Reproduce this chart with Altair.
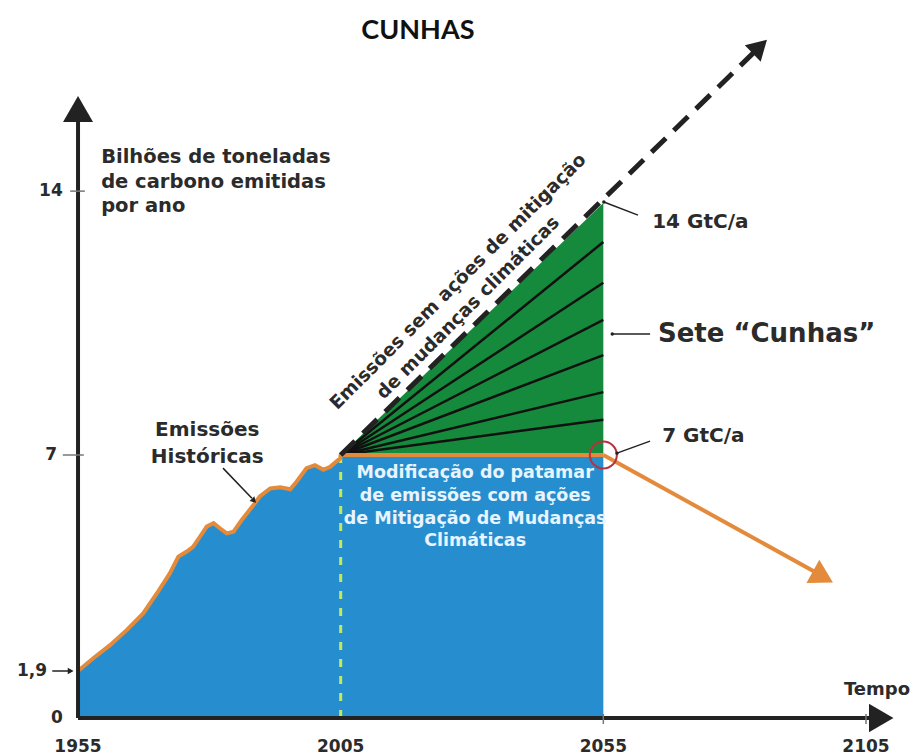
import altair as alt
import pandas as pd

# ---------------- data ----------------
hist_years = [1955, 1957.9, 1961.1, 1964.3, 1967.4, 1970.0, 1972.5, 1974.1, 1975.7, 1976.9,
              1978.2, 1979.5, 1980.8, 1982.0, 1983.3, 1984.6, 1986.2, 1988.4, 1989.6, 1991.6,
              1993.5, 1995.4, 1996.6, 1998.5, 2000.1, 2001.7, 2003.0, 2004.9, 2005]
hist_values = [1.9, 2.20, 2.51, 2.87, 3.26, 3.73, 4.21, 4.60, 4.72, 4.83,
               5.07, 5.31, 5.39, 5.27, 5.15, 5.19, 5.47, 5.82, 6.02, 6.21,
               6.24, 6.19, 6.37, 6.69, 6.76, 6.65, 6.72, 6.92, 7.0]
plateau_years = [2005, 2055]
plateau_values = [7.0, 7.0]
wedge_tops = [7.94, 8.68, 9.67, 10.61, 11.6, 12.69, 13.73]
bau_line = {"x": [2005], "y": [7.0], "x2": [2084.8], "y2": [17.91]}
mitig_line = {"x": [2055], "y": [7.0], "x2": [2096.6], "y2": [4.15]}

y_tick_labels = ["14", "7", "1,9", "0"]
y_tick_values = [14, 7, 1.9, 0]
x_tick_labels = ["1955", "2005", "2055", "2105"]
x_tick_values = [1955, 2005, 2055, 2105]

# ---------------- scales ----------------
XS = alt.Scale(domain=[1941.67, 2114.33], nice=False, zero=False)
YS = alt.Scale(domain=[-1.013, 0, 1.9, 7, 14, 18.94], range=[748, 710, 663, 447, 185, 0],
               nice=False, zero=False)


def X(f="x"):
    return alt.X(f"{f}:Q", scale=XS, axis=None)


def Y(f="y"):
    return alt.Y(f"{f}:Q", scale=YS, axis=None)


BLUE = "#268ece"
GREEN = "#158a3c"
ORANGE = "#e38b3b"
DARK = "#222222"
TXT = "#2b2b2b"
FONT = "DejaVu Sans"

# blue area (historical + plateau)
area_df = pd.DataFrame({"x": hist_years + [2055], "y": hist_values + [7.0]})
area_df["y0"] = 0.0
blue = alt.Chart(area_df).mark_area(color=BLUE, opacity=1).encode(
    x=X(), y=Y(), y2=alt.Y2("y0:Q"))

# green wedge
wedge_df = pd.DataFrame({"x": [2005, 2055], "y": [7.0, wedge_tops[-1]], "y0": [7.0, 7.0]})
green = alt.Chart(wedge_df).mark_area(color=GREEN, opacity=1).encode(
    x=X(), y=Y(), y2=alt.Y2("y0:Q"))

# fan lines
fan_df = pd.DataFrame({"x": [2005] * 6, "y": [7.0] * 6, "x2": [2055] * 6, "y2": wedge_tops[:-1]})
fan = alt.Chart(fan_df).mark_rule(color="#111111", strokeWidth=2.5).encode(
    x=X(), y=Y(), x2=alt.X2("x2:Q"), y2=alt.Y2("y2:Q"))

# green dashed vertical line at 2005
vdash = alt.Chart(pd.DataFrame({"x": [2005], "y": [0.0], "y2": [7.0]})).mark_rule(
    color="#c2ec55", strokeWidth=3, strokeDash=[8, 9]).encode(
    x=X(), y=Y(), y2=alt.Y2("y2:Q"))

# orange historical + plateau line
oline_df = pd.DataFrame({"x": hist_years + plateau_years[1:], "y": hist_values + plateau_values[1:]})
oline = alt.Chart(oline_df).mark_line(color=ORANGE, strokeWidth=4).encode(x=X(), y=Y())

# orange mitigation arrow
marrow = alt.Chart(pd.DataFrame(mitig_line)).mark_rule(color=ORANGE, strokeWidth=4).encode(
    x=X(), y=Y(), x2=alt.X2("x2:Q"), y2=alt.Y2("y2:Q"))
mhead = alt.Chart(pd.DataFrame({"x": [2096.8], "y": [4.12]})).mark_point(
    shape="triangle-up", filled=True, color=ORANGE, opacity=1, size=700, angle=119).encode(x=X(), y=Y())

# red circle
circle = alt.Chart(pd.DataFrame({"x": [2055], "y": [7.0]})).mark_point(
    shape="circle", filled=False, color="#b8323c", size=729, strokeWidth=2, opacity=1).encode(x=X(), y=Y())

# BAU dashed line with arrow
bau = alt.Chart(pd.DataFrame(bau_line)).mark_rule(
    color=DARK, strokeWidth=5, strokeDash=[20, 11]).encode(
    x=X(), y=Y(), x2=alt.X2("x2:Q"), y2=alt.Y2("y2:Q"))
bhead = alt.Chart(pd.DataFrame({"x": [2084.8], "y": [17.91]})).mark_point(
    shape="triangle-up", filled=True, color=DARK, opacity=1, size=520, angle=46).encode(x=X(), y=Y())

# axes
axes_df = pd.DataFrame({"x": [1955, 1955], "y": [0.0, 0.0], "x2": [1955, 2105.8], "y2": [15.9, 0.0]})
axes = alt.Chart(axes_df).mark_rule(color=DARK, strokeWidth=4).encode(
    x=X(), y=Y(), x2=alt.X2("x2:Q"), y2=alt.Y2("y2:Q"))
yhead = alt.Chart(pd.DataFrame({"x": [1955], "y": [16.24]})).mark_point(
    shape="triangle-up", filled=True, color=DARK, opacity=1, size=900).encode(x=X(), y=Y())
xhead = alt.Chart(pd.DataFrame({"x": [2107.9], "y": [0.0]})).mark_point(
    shape="triangle-right", filled=True, color=DARK, opacity=1, size=800).encode(x=X(), y=Y())

# tick marks
ticks_df = pd.DataFrame({
    "x": [1953.5, 1952.1, 2055, 2105],
    "y": [14.05, 7.0, 0.16, 0.16],
    "x2": [1956.3, 1956.1, 2055, 2105],
    "y2": [14.05, 7.0, -0.16, -0.16]})
ticks = alt.Chart(ticks_df).mark_rule(color="#777777", strokeWidth=1.5).encode(
    x=X(), y=Y(), x2=alt.X2("x2:Q"), y2=alt.Y2("y2:Q"))

# pointer lines
ptr_df = pd.DataFrame({
    "x": [1982.6, 2061.6, 2063.9, 2063.9, 1950.1],
    "y": [6.69, 13.41, 10.23, 7.37, 1.9],
    "x2": [1988.1, 2055.1, 2056.7, 2057.6, 1953.3],
    "y2": [5.98, 13.76, 10.23, 7.05, 1.9]})
ptrs = alt.Chart(ptr_df).mark_rule(color=DARK, strokeWidth=1.5).encode(
    x=X(), y=Y(), x2=alt.X2("x2:Q"), y2=alt.Y2("y2:Q"))
ptr_heads = alt.Chart(pd.DataFrame({
    "x": [1988.5, 1953.6], "y": [5.92, 1.9], "a": [136, 90]})).mark_point(
    shape="triangle-up", filled=True, color=DARK, opacity=1, size=45).encode(
    x=X(), y=Y(), angle=alt.Angle("a:Q", scale=None))
ptr_dots = alt.Chart(pd.DataFrame({"x": [2055.1, 2056.7, 2057.6], "y": [13.76, 10.23, 7.05]})).mark_point(
    shape="circle", filled=True, color=DARK, opacity=1, size=12).encode(x=X(), y=Y())


def texts(rows, **kw):
    df = pd.DataFrame(rows, columns=["x", "y", "t"])
    return alt.Chart(df).mark_text(**kw).encode(x=X(), y=Y(), text="t:N")


title = texts([(2019.7, 18.33, "CUNHAS")], font="Lato", fontWeight="bold", fontSize=27,
              color="#111111", align="center", baseline="middle")
ylab = texts([(1959.4, 14.96, "Bilhões de toneladas"), (1959.4, 14.29, "de carbono emitidas"),
              (1959.4, 13.65, "por ano")],
             font=FONT, fontWeight="bold", fontSize=19.5, color=TXT, align="left", baseline="middle")
yt_df = [(1952.1, 14.05, "14"), (1951.0, 7.0, "7"), (1949.1, 1.9, "1,9"), (1952.1, 0.0, "0")]
ytl = texts(yt_df, font=FONT, fontWeight="bold", fontSize=17, color=TXT, align="right", baseline="middle")
xtl = texts([(v, -0.77, l) for v, l in zip(x_tick_values, x_tick_labels)],
            font=FONT, fontWeight="bold", fontSize=17, color=TXT, align="center", baseline="middle")
tempo = texts([(2107.1, 1.13, "Tempo")], font=FONT, fontWeight="bold", fontSize=18, color=TXT,
              align="center", baseline="middle")
hist_lab = texts([(1979.6, 7.67, "Emissões"), (1979.6, 6.95, "Históricas")],
                 font=FONT, fontWeight="bold", fontSize=20, color=TXT, align="center", baseline="middle")
right_lab = texts([(2064.3, 13.22, "14 GtC/a"), (2066.2, 7.51, "7 GtC/a")],
                  font=FONT, fontWeight="bold", fontSize=20, color=TXT, align="left", baseline="middle")
sete = texts([(2065.4, 10.23, "Sete “Cunhas”")], font=FONT, fontWeight="bold", fontSize=26,
             color=TXT, align="left", baseline="middle")
white = texts([(2030.6, 6.575, "Modificação do patamar"), (2030.6, 6.03, "de emissões com ações"),
               (2030.6, 5.49, "de Mitigação de Mudanças"), (2030.6, 4.97, "Climáticas")],
              font=FONT, fontWeight="bold", fontSize=17.5, color="#e8f4ff", align="center", baseline="middle")
rot = texts([(2027.3, 11.64, "Emissões sem ações de mitigação"),
             (2029.2, 10.94, "de mudanças climáticas")],
            font=FONT, fontWeight="bold", fontSize=18.5, color=TXT, align="center", baseline="middle",
            angle=315)

chart = alt.layer(
    blue, green, fan, vdash, oline, marrow, mhead, circle, bau, bhead,
    axes, yhead, xhead, ticks, ptrs, ptr_heads, ptr_dots,
    title, ylab, ytl, xtl, tempo, hist_lab, right_lab, sete, white, rot
).properties(
    width=907, height=748, padding=0,
    autosize=alt.AutoSizeParams(type="none")
).configure_view(stroke=None)

chart.save("out.html", embed_options={"renderer": "svg", "actions": False})
